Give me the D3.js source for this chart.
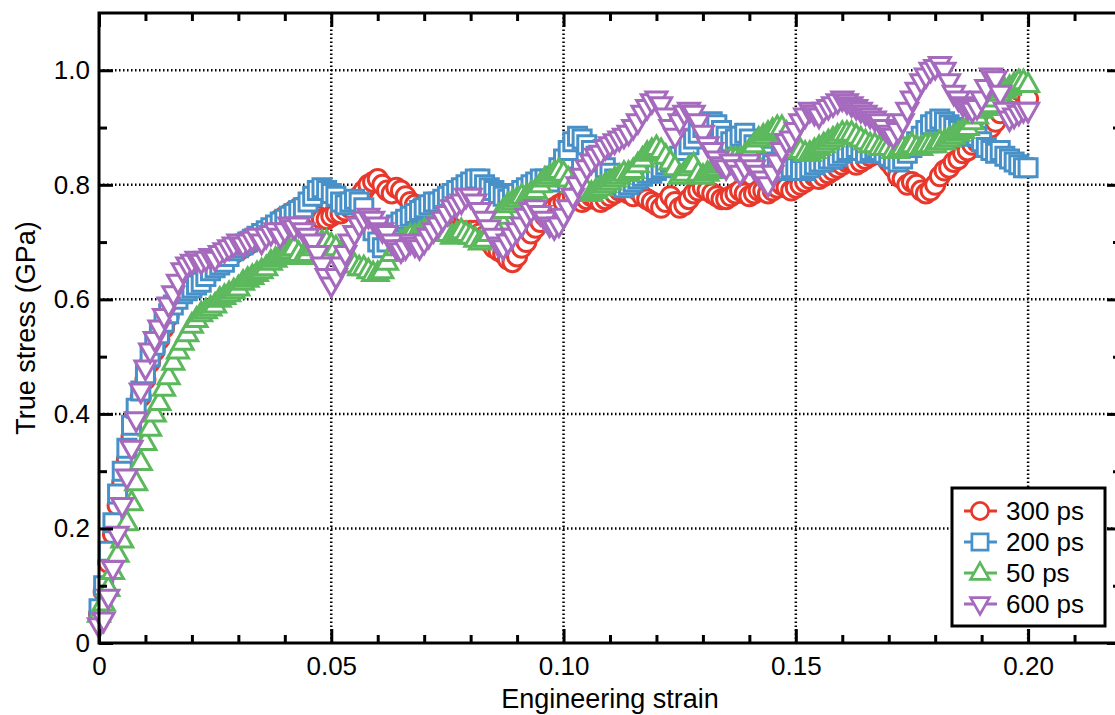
<!DOCTYPE html>
<html>
<head>
<meta charset="utf-8">
<script src="https://cdn.jsdelivr.net/npm/d3@7"></script>
<style>
  body { margin: 0; background: #fff; }
  svg { display: block; font-family: "Liberation Sans", Arial, Helvetica, sans-serif; }
</style>
</head>
<body>
<svg id="chart" width="1115" height="715"></svg>
<script>
// engineering strain (sampled every 0.001)
var strain = [
  0,.001,.002,.003,.004,.005,.006,.007,.008,.009,
  .010,.011,.012,.013,.014,.015,.016,.017,.018,.019,
  .020,.021,.022,.023,.024,.025,.026,.027,.028,.029,
  .030,.031,.032,.033,.034,.035,.036,.037,.038,.039,
  .040,.041,.042,.043,.044,.045,.046,.047,.048,.049,
  .050,.051,.052,.053,.054,.055,.056,.057,.058,.059,
  .060,.061,.062,.063,.064,.065,.066,.067,.068,.069,
  .070,.071,.072,.073,.074,.075,.076,.077,.078,.079,
  .080,.081,.082,.083,.084,.085,.086,.087,.088,.089,
  .090,.091,.092,.093,.094,.095,.096,.097,.098,.099,
  .100,.101,.102,.103,.104,.105,.106,.107,.108,.109,
  .110,.111,.112,.113,.114,.115,.116,.117,.118,.119,
  .120,.121,.122,.123,.124,.125,.126,.127,.128,.129,
  .130,.131,.132,.133,.134,.135,.136,.137,.138,.139,
  .140,.141,.142,.143,.144,.145,.146,.147,.148,.149,
  .150,.151,.152,.153,.154,.155,.156,.157,.158,.159,
  .160,.161,.162,.163,.164,.165,.166,.167,.168,.169,
  .170,.171,.172,.173,.174,.175,.176,.177,.178,.179,
  .180,.181,.182,.183,.184,.185,.186,.187,.188,.189,
  .190,.191,.192,.193,.194,.195,.196,.197,.198,.199,.200
];

// true stress (GPa) for each run
var stress300 = [
  0.05,0.09,0.14,0.19,0.24,0.28,0.32,0.36,0.40,0.43,
  0.46,0.49,0.51,0.53,0.55,0.57,0.59,0.605,0.62,0.63,
  0.635,0.64,0.645,0.65,0.655,0.66,0.665,0.67,0.675,0.68,
  0.685,0.69,0.695,0.70,0.705,0.71,0.715,0.72,0.73,0.74,
  0.745,0.75,0.755,0.76,0.76,0.755,0.75,0.745,0.74,0.74,
  0.745,0.75,0.75,0.755,0.76,0.77,0.78,0.79,0.80,0.805,
  0.81,0.80,0.79,0.785,0.795,0.79,0.78,0.77,0.765,0.76,
  0.755,0.75,0.745,0.74,0.735,0.73,0.725,0.72,0.72,0.715,
  0.72,0.72,0.715,0.71,0.70,0.69,0.685,0.68,0.67,0.665,
  0.675,0.69,0.70,0.715,0.725,0.735,0.745,0.755,0.76,0.765,
  0.77,0.775,0.78,0.775,0.77,0.775,0.78,0.775,0.77,0.775,
  0.78,0.785,0.79,0.79,0.785,0.78,0.79,0.78,0.775,0.77,
  0.765,0.76,0.77,0.78,0.77,0.76,0.765,0.775,0.785,0.79,
  0.795,0.79,0.785,0.78,0.775,0.775,0.78,0.785,0.79,0.785,
  0.78,0.785,0.79,0.79,0.785,0.79,0.795,0.80,0.795,0.79,
  0.795,0.80,0.805,0.81,0.815,0.81,0.815,0.82,0.825,0.83,
  0.835,0.84,0.84,0.835,0.84,0.845,0.85,0.855,0.86,0.85,
  0.84,0.83,0.815,0.81,0.80,0.805,0.80,0.79,0.785,0.79,
  0.80,0.815,0.825,0.83,0.84,0.845,0.855,0.86,0.87,0.875,
  0.88,0.89,0.90,0.91,0.925,0.94,0.95,0.96,0.965,0.96,0.95
];
var stress200 = [
  0.06,0.10,0.16,0.21,0.26,0.30,0.34,0.38,0.41,0.44,
  0.47,0.50,0.52,0.54,0.56,0.575,0.59,0.60,0.61,0.615,
  0.62,0.625,0.63,0.64,0.65,0.655,0.66,0.665,0.675,0.685,
  0.69,0.695,0.70,0.705,0.71,0.715,0.72,0.725,0.73,0.735,
  0.74,0.745,0.75,0.755,0.76,0.77,0.78,0.79,0.795,0.79,
  0.785,0.78,0.77,0.765,0.77,0.775,0.77,0.76,0.74,0.72,
  0.70,0.69,0.70,0.72,0.73,0.735,0.74,0.745,0.75,0.755,
  0.76,0.765,0.77,0.77,0.775,0.78,0.785,0.79,0.795,0.80,
  0.805,0.81,0.81,0.80,0.795,0.79,0.785,0.78,0.775,0.78,
  0.785,0.79,0.795,0.80,0.805,0.81,0.81,0.805,0.815,0.83,
  0.845,0.86,0.875,0.885,0.88,0.87,0.86,0.85,0.84,0.83,
  0.82,0.81,0.80,0.795,0.80,0.805,0.81,0.815,0.82,0.82,
  0.825,0.83,0.835,0.84,0.845,0.85,0.86,0.87,0.88,0.89,
  0.90,0.905,0.91,0.905,0.895,0.885,0.875,0.88,0.885,0.89,
  0.88,0.87,0.86,0.85,0.84,0.835,0.83,0.825,0.825,0.83,
  0.83,0.825,0.825,0.83,0.835,0.84,0.84,0.845,0.845,0.85,
  0.855,0.86,0.86,0.865,0.86,0.855,0.86,0.865,0.86,0.855,
  0.85,0.845,0.84,0.845,0.855,0.865,0.875,0.885,0.895,0.905,
  0.91,0.915,0.91,0.905,0.90,0.895,0.89,0.885,0.89,0.885,
  0.875,0.865,0.86,0.855,0.86,0.85,0.845,0.84,0.835,0.83,0.83
];
var stress50 = [
  0.05,0.07,0.095,0.125,0.155,0.18,0.21,0.245,0.28,0.315,
  0.35,0.375,0.40,0.42,0.445,0.465,0.49,0.51,0.525,0.54,
  0.555,0.565,0.575,0.58,0.585,0.59,0.60,0.605,0.61,0.615,
  0.62,0.63,0.635,0.64,0.645,0.65,0.655,0.665,0.67,0.675,
  0.68,0.685,0.69,0.68,0.675,0.68,0.69,0.695,0.70,0.70,
  0.695,0.69,0.68,0.67,0.665,0.66,0.655,0.655,0.65,0.645,
  0.645,0.65,0.665,0.68,0.69,0.70,0.705,0.71,0.71,0.715,
  0.72,0.725,0.73,0.725,0.72,0.715,0.71,0.715,0.72,0.715,
  0.71,0.705,0.70,0.705,0.715,0.73,0.745,0.755,0.765,0.77,
  0.775,0.78,0.78,0.785,0.79,0.80,0.81,0.815,0.82,0.825,
  0.82,0.81,0.80,0.795,0.79,0.79,0.785,0.79,0.795,0.80,
  0.805,0.81,0.815,0.82,0.82,0.825,0.835,0.845,0.855,0.86,
  0.865,0.86,0.85,0.84,0.83,0.815,0.82,0.83,0.835,0.82,
  0.815,0.82,0.825,0.83,0.835,0.84,0.845,0.845,0.845,0.85,
  0.86,0.87,0.88,0.885,0.89,0.895,0.90,0.90,0.89,0.88,
  0.87,0.86,0.855,0.855,0.86,0.865,0.87,0.875,0.88,0.885,
  0.89,0.89,0.89,0.885,0.88,0.875,0.87,0.87,0.865,0.865,
  0.865,0.86,0.86,0.865,0.865,0.87,0.865,0.865,0.87,0.87,
  0.87,0.875,0.875,0.88,0.885,0.89,0.895,0.90,0.91,0.92,
  0.93,0.935,0.94,0.95,0.96,0.965,0.97,0.975,0.98,0.98,0.975
];
var stress600 = [
  0.03,0.04,0.08,0.13,0.19,0.24,0.29,0.34,0.39,0.44,
  0.48,0.51,0.53,0.55,0.57,0.59,0.61,0.63,0.65,0.66,
  0.665,0.67,0.665,0.67,0.675,0.67,0.68,0.685,0.69,0.695,
  0.70,0.695,0.70,0.705,0.71,0.70,0.71,0.715,0.72,0.71,
  0.72,0.73,0.725,0.73,0.72,0.71,0.70,0.68,0.66,0.64,
  0.625,0.64,0.66,0.68,0.70,0.715,0.73,0.74,0.745,0.74,
  0.73,0.72,0.715,0.70,0.69,0.685,0.69,0.70,0.695,0.69,
  0.70,0.71,0.72,0.73,0.74,0.75,0.76,0.765,0.77,0.78,
  0.78,0.77,0.755,0.74,0.725,0.71,0.695,0.69,0.70,0.71,
  0.72,0.73,0.745,0.755,0.76,0.75,0.74,0.73,0.725,0.73,
  0.745,0.76,0.78,0.80,0.815,0.83,0.84,0.85,0.855,0.865,
  0.87,0.875,0.88,0.885,0.89,0.90,0.91,0.925,0.935,0.945,
  0.95,0.94,0.92,0.90,0.885,0.91,0.925,0.93,0.925,0.91,
  0.89,0.87,0.86,0.845,0.835,0.83,0.84,0.83,0.82,0.83,
  0.84,0.83,0.82,0.81,0.80,0.82,0.84,0.86,0.875,0.88,
  0.895,0.91,0.92,0.93,0.925,0.92,0.93,0.935,0.94,0.945,
  0.95,0.945,0.94,0.935,0.93,0.925,0.92,0.915,0.91,0.90,
  0.89,0.885,0.895,0.91,0.93,0.95,0.965,0.98,0.99,1.0,
  1.005,1.01,1.0,0.98,0.96,0.95,0.94,0.935,0.93,0.935,
  0.95,0.97,0.99,0.985,0.96,0.93,0.915,0.92,0.925,0.93,0.93
];

var seriesNames = ["300 ps", "200 ps", "50 ps", "600 ps"];
var seriesValues = [stress300, stress200, stress50, stress600];
var seriesColors = ["#e8382c", "#4791c8", "#5cb85c", "#a569bd"];
var seriesShapes = ["circle", "square", "up", "down"];

var xMajor = [0, 0.05, 0.10, 0.15, 0.20],
    xMinor = [0.01,0.02,0.03,0.04,0.06,0.07,0.08,0.09,0.11,0.12,0.13,0.14,0.16,0.17,0.18,0.19,0.21],
    yMajor = [0, 0.2, 0.4, 0.6, 0.8, 1.0],
    yMinor = [0.1, 0.3, 0.5, 0.7, 0.9];

var plotLeft = 99, plotRight = 1121, plotTop = 13, plotBottom = 643;

var svg = d3.select("#chart");

var x = d3.scaleLinear().domain([0, 0.22]).range([plotLeft, plotRight]);
var y = d3.scaleLinear().domain([0, 1.1]).range([plotBottom, plotTop]);

function shapePath(kind) {
  if (kind == "circle") return "M9.5,0A9.5,9.5 0 1,1 -9.5,0A9.5,9.5 0 1,1 9.5,0Z";
  if (kind == "square") return "M-9,-9H9V9H-9Z";
  if (kind == "up") return "M0,-11.5L10.5,7L-10.5,7Z";
  return "M0,11.5L10.5,-7L-10.5,-7Z";
}

// grid
var grid = svg.append("g").attr("class", "grid");
grid.selectAll(".gx")
  .data(xMajor.filter(function(d) { return d > 0; }))
  .enter().append("line")
  .attr("x1", function(d) { return x(d); })
  .attr("x2", function(d) { return x(d); })
  .attr("y1", plotBottom).attr("y2", plotTop)
  .attr("stroke", "#000").attr("stroke-width", 2.5)
  .attr("stroke-dasharray", "1.5,2.5");
grid.selectAll(".gy")
  .data(yMajor.filter(function(d) { return d > 0; }))
  .enter().append("line")
  .attr("y1", function(d) { return y(d); })
  .attr("y2", function(d) { return y(d); })
  .attr("x1", plotLeft).attr("x2", plotRight)
  .attr("stroke", "#000").attr("stroke-width", 2.5)
  .attr("stroke-dasharray", "1.5,2.5");

// markers, drawn series by series
seriesValues.forEach(function(vals, i) {
  var pts = strain.map(function(s, j) { return {s: s, v: vals[j]}; });
  svg.append("g")
    .selectAll("path")
    .data(pts)
    .enter().append("path")
    .attr("d", shapePath(seriesShapes[i]))
    .attr("transform", function(d) { return "translate(" + x(d.s) + "," + y(d.v) + ")"; })
    .attr("fill", "#fff")
    .attr("stroke", seriesColors[i])
    .attr("stroke-width", 3);
});

// axes (ticks point inward)
function styleAxis(g) {
  g.select(".domain").remove();
  g.selectAll(".tick line").attr("stroke", "#000").attr("stroke-width", 3);
  g.selectAll("text").attr("fill", "#000").style("font-size", "26px")
    .style("font-family", "'Liberation Sans', Arial, sans-serif");
}
var fmtX = function(d) { return d === 0 ? "0" : d3.format(".2f")(d); };
var fmtY = function(d) { return d === 0 ? "0" : d3.format(".1f")(d); };

svg.append("g").attr("transform", "translate(0," + plotBottom + ")")
  .call(d3.axisBottom(x).tickValues(xMajor).tickSizeInner(-14).tickSizeOuter(0).tickPadding(14).tickFormat(fmtX))
  .call(styleAxis);
svg.append("g").attr("transform", "translate(0," + plotBottom + ")")
  .call(d3.axisBottom(x).tickValues(xMinor).tickSizeInner(-8).tickSizeOuter(0).tickFormat(""))
  .call(styleAxis);
svg.append("g").attr("transform", "translate(0," + plotTop + ")")
  .call(d3.axisTop(x).tickValues(xMajor).tickSizeInner(-14).tickSizeOuter(0).tickFormat(""))
  .call(styleAxis);
svg.append("g").attr("transform", "translate(0," + plotTop + ")")
  .call(d3.axisTop(x).tickValues(xMinor).tickSizeInner(-8).tickSizeOuter(0).tickFormat(""))
  .call(styleAxis);
svg.append("g").attr("transform", "translate(" + plotLeft + ",0)")
  .call(d3.axisLeft(y).tickValues(yMajor).tickSizeInner(-14).tickSizeOuter(0).tickPadding(9).tickFormat(fmtY))
  .call(styleAxis);
svg.append("g").attr("transform", "translate(" + plotLeft + ",0)")
  .call(d3.axisLeft(y).tickValues(yMinor).tickSizeInner(-8).tickSizeOuter(0).tickFormat(""))
  .call(styleAxis);
svg.append("g").attr("transform", "translate(" + plotRight + ",0)")
  .call(d3.axisRight(y).tickValues(yMajor).tickSizeInner(-14).tickSizeOuter(0).tickFormat(""))
  .call(styleAxis);
svg.append("g").attr("transform", "translate(" + plotRight + ",0)")
  .call(d3.axisRight(y).tickValues(yMinor).tickSizeInner(-8).tickSizeOuter(0).tickFormat(""))
  .call(styleAxis);

// frame
svg.append("rect")
  .attr("x", plotLeft).attr("y", plotTop)
  .attr("width", plotRight - plotLeft).attr("height", plotBottom - plotTop)
  .attr("fill", "none").attr("stroke", "#000").attr("stroke-width", 3);

// axis titles
svg.append("text")
  .attr("x", 610).attr("y", 708)
  .attr("text-anchor", "middle")
  .style("font-size", "27px")
  .text("Engineering strain");
svg.append("text")
  .attr("transform", "translate(35,328) rotate(-90)")
  .attr("text-anchor", "middle")
  .style("font-size", "27px")
  .text("True stress (GPa)");

// legend
var legend = svg.append("g").attr("transform", "translate(952,488)");
legend.append("rect")
  .attr("width", 153).attr("height", 138)
  .attr("fill", "#fff").attr("stroke", "#000").attr("stroke-width", 3);
var rows = legend.selectAll(".row")
  .data(seriesNames)
  .enter().append("g")
  .attr("transform", function(d, i) { return "translate(0," + (23 + i * 31) + ")"; });
rows.append("line")
  .attr("x1", 12).attr("x2", 45)
  .attr("stroke", function(d, i) { return seriesColors[i]; })
  .attr("stroke-width", 3);
rows.append("path")
  .attr("d", function(d, i) { return shapePath(seriesShapes[i]); })
  .attr("transform", "translate(28,0) scale(0.9)")
  .attr("fill", "#fff")
  .attr("stroke", function(d, i) { return seriesColors[i]; })
  .attr("stroke-width", 3);
rows.append("text")
  .attr("x", 54).attr("dy", "0.35em")
  .style("font-size", "26px")
  .text(function(d) { return d; });
</script>
</body>
</html>
